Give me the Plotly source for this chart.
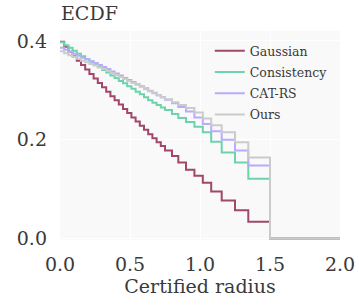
import plotly.graph_objects as go

radius = [0.00, 0.03, 0.06, 0.09, 0.12, 0.15, 0.18, 0.21, 0.24, 0.27, 0.30, 0.33,
          0.36, 0.39, 0.42, 0.45, 0.48, 0.51, 0.54, 0.57, 0.60, 0.63, 0.66, 0.69,
          0.72, 0.75, 0.80, 0.845, 0.90, 0.96, 1.02, 1.08, 1.155, 1.25, 1.345, 1.50, 2.00]

gaussian = [0.398, 0.388, 0.378, 0.369, 0.360, 0.351, 0.342, 0.333, 0.324, 0.315, 0.306, 0.297,
            0.288, 0.280, 0.271, 0.262, 0.254, 0.245, 0.237, 0.228, 0.220, 0.211, 0.203, 0.195,
            0.187, 0.178, 0.167, 0.154, 0.139, 0.127, 0.113, 0.095, 0.077, 0.057, 0.034, 0.0, 0.0]

consistency = [0.397, 0.391, 0.386, 0.380, 0.374, 0.369, 0.363, 0.358, 0.352, 0.347, 0.341, 0.336,
               0.330, 0.325, 0.319, 0.314, 0.308, 0.303, 0.297, 0.292, 0.286, 0.280, 0.275, 0.270,
               0.265, 0.260, 0.252, 0.244, 0.236, 0.226, 0.215, 0.196, 0.174, 0.154, 0.121, 0.0, 0.0]

cat_rs = [0.386, 0.382, 0.378, 0.374, 0.370, 0.366, 0.363, 0.359, 0.355, 0.351, 0.347, 0.343,
          0.338, 0.334, 0.330, 0.325, 0.321, 0.317, 0.312, 0.308, 0.304, 0.299, 0.295, 0.290,
          0.286, 0.281, 0.274, 0.266, 0.257, 0.245, 0.232, 0.217, 0.200, 0.178, 0.148, 0.0, 0.0]

ours = [0.379, 0.375, 0.371, 0.368, 0.364, 0.360, 0.357, 0.353, 0.350, 0.346, 0.343, 0.339,
        0.335, 0.331, 0.327, 0.323, 0.319, 0.315, 0.311, 0.307, 0.302, 0.298, 0.294, 0.290,
        0.286, 0.282, 0.276, 0.270, 0.264, 0.255, 0.243, 0.229, 0.215, 0.195, 0.164, 0.0, 0.0]

series_names = ["Gaussian", "Consistency", "CAT-RS", "Ours"]
series_values = [gaussian, consistency, cat_rs, ours]
colors = ["#a0476a", "#6cd3ad", "#baaaff", "#cbcbcb"]

x_ticks = [0.0, 0.5, 1.0, 1.5, 2.0]
x_tick_labels = ["0.0", "0.5", "1.0", "1.5", "2.0"]
y_ticks = [0.0, 0.2, 0.4]
y_tick_labels = ["0.0", "0.2", "0.4"]

FONT = "DejaVu Serif"
TXT = "#3a3a3a"

fig = go.Figure()
for i, (name, vals, col) in enumerate(zip(series_names, series_values, colors)):
    fig.add_trace(go.Scatter(
        x=radius, y=vals, mode="lines", name=name,
        line=dict(color=col, width=2, shape="hv"),
        legendgroup=name,
    ))

fig.update_layout(
    width=359, height=306,
    margin=dict(l=60, r=19, t=31, b=66),
    paper_bgcolor="white",
    plot_bgcolor="#f9f9f9",
    font=dict(family=FONT, color=TXT, size=19),
    showlegend=True,
    legend=dict(
        x=0.535, y=0.975, xanchor="left", yanchor="top",
        bgcolor="rgba(0,0,0,0)",
        font=dict(family=FONT, size=12.5, color=TXT),
        tracegroupgap=2,
    ),
    xaxis=dict(
        range=[0, 2.0], tickvals=x_ticks, ticktext=x_tick_labels,
        showgrid=True, gridcolor="white", gridwidth=1,
        zeroline=False, showline=False, ticks="",
        automargin=False, ticklabelstandoff=11,
        tickfont=dict(family=FONT, size=19, color=TXT),
        title=dict(text="Certified radius", font=dict(family=FONT, size=19, color=TXT), standoff=5),
    ),
    yaxis=dict(
        range=[-0.003, 0.42], tickvals=y_ticks, ticktext=y_tick_labels,
        showgrid=True, gridcolor="white", gridwidth=1,
        zeroline=False, showline=False, ticks="",
        automargin=False, ticklabelstandoff=12,
        tickfont=dict(family=FONT, size=19, color=TXT),
    ),
    annotations=[dict(
        text="ECDF", xref="paper", yref="paper", x=-0.005, y=1.086,
        xanchor="left", yanchor="middle", showarrow=False,
        font=dict(family=FONT, size=19, color=TXT),
    )],
)

# remove the page's default 8px body margin so the figure sits at the window origin
fig.write_html("out.html", config={"displayModeBar": False},
               post_script="document.body.style.margin='0';")
